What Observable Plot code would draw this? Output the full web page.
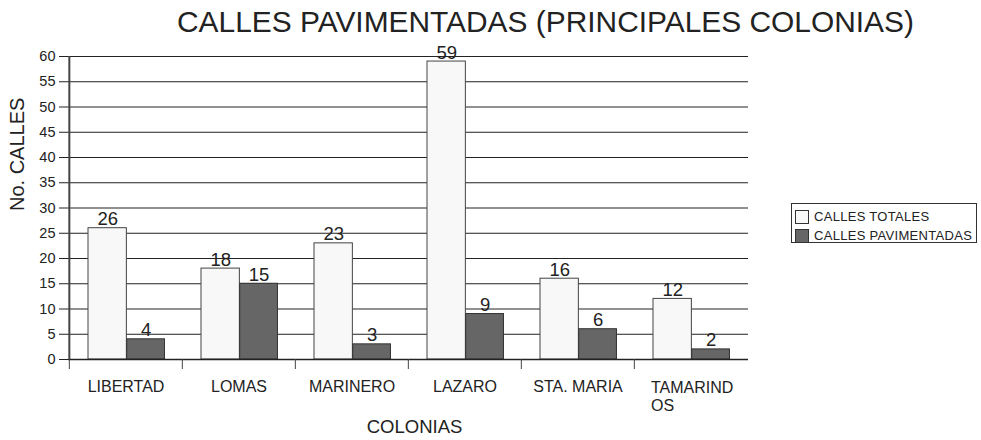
<!DOCTYPE html>
<html>
<head>
<meta charset="utf-8">
<script src="https://cdn.jsdelivr.net/npm/d3@7"></script>
<script src="https://cdn.jsdelivr.net/npm/@observablehq/plot@0.6"></script>
<style>
  html, body { margin: 0; padding: 0; background: #fff; }
  #wrap { position: relative; width: 981px; height: 440px; font-family: "Liberation Sans", Arial, sans-serif; color: #222; }
  #title { position: absolute; left: 177px; top: 7px; font-size: 29.9px; line-height: 29.9px; white-space: nowrap; color: #222; }
  #legend { position: absolute; left: 791px; top: 203px; width: 184px; height: 38px; border: 1px solid #333; font-size: 13px; letter-spacing: 0.3px; }
  .item { position: absolute; left: 3px; display: flex; align-items: center; white-space: nowrap; }
  .sw { width: 12px; height: 12px; border: 1px solid #333; margin-right: 5px; }
</style>
</head>
<body>
<div id="wrap">
  <div id="title"></div>
  <div id="legend"></div>
</div>
<script>
const title = "CALLES PAVIMENTADAS (PRINCIPALES COLONIAS)";
const colonias = ["LIBERTAD", "LOMAS", "MARINERO", "LAZARO", "STA. MARIA", "TAMARINDOS"];
const tickLabels = ["LIBERTAD", "LOMAS", "MARINERO", "LAZARO", "STA. MARIA", "TAMARIND\nOS"];
const series = ["CALLES TOTALES", "CALLES PAVIMENTADAS"];
const totales = [26, 18, 23, 59, 16, 12];
const pavimentadas = [4, 15, 3, 9, 6, 2];
const yTicks = [0, 5, 10, 15, 20, 25, 30, 35, 40, 45, 50, 55, 60];
const yLabel = "No. CALLES";
const xLabel = "COLONIAS";
const colors = ["#f8f8f8", "#666666"];

const W = 981, H = 440, mL = 68, mR = 233, mT = 56, mB = 81;
const bw = (W - mL - mR) / colonias.length;

const rowsT = colonias.map((c, i) => ({colonia: c, value: totales[i]}));
const rowsP = colonias.map((c, i) => ({colonia: c, value: pavimentadas[i]}));
const labelRows = colonias.map((c, i) => ({colonia: c, label: tickLabels[i]}));
const single = labelRows.filter(r => !r.label.includes("\n"));
const multi = labelRows.filter(r => r.label.includes("\n"));

const font = "'Liberation Sans', Arial, sans-serif";

const chart = Plot.plot({
  width: W, height: H,
  marginLeft: mL, marginRight: mR, marginTop: mT, marginBottom: mB,
  style: {fontFamily: font, background: "transparent", color: "#222", overflow: "visible"},
  x: {domain: colonias, padding: 0, axis: null},
  y: {domain: [0, 60], axis: null},
  marks: [
    Plot.gridY(yTicks, {stroke: "#222", strokeOpacity: 1, strokeWidth: 1}),
    Plot.axisY(yTicks, {tickSize: 9, tickPadding: 4, fontSize: 14.5, label: null, stroke: "#222"}),
    Plot.barY(rowsT, {x: "colonia", y: "value", fill: colors[0], stroke: "#444", strokeWidth: 1, insetLeft: 19, insetRight: bw - 57.7}),
    Plot.barY(rowsP, {x: "colonia", y: "value", fill: colors[1], stroke: "#333", strokeWidth: 1, insetLeft: 57.7, insetRight: bw - 95.8}),
    Plot.ruleY([0], {stroke: "#222", strokeWidth: 1.5}),
    Plot.ruleX([colonias[0]], {dx: -bw / 2, stroke: "#444", strokeWidth: 2}),
    Plot.axisX(colonias, {tickSize: 10, tickFormat: () => "", dx: -bw / 2, label: null, stroke: "#444"}),
    Plot.text(rowsT, {x: "colonia", y: "value", text: d => String(d.value), dx: 38.35 - bw / 2, dy: -3, lineAnchor: "bottom", fontSize: 18.5, fill: "#222"}),
    Plot.text(rowsP, {x: "colonia", y: "value", text: d => String(d.value), dx: 76.75 - bw / 2, dy: -3, lineAnchor: "bottom", fontSize: 18.5, fill: "#222"}),
    Plot.text(single, {x: "colonia", text: "label", frameAnchor: "bottom", lineAnchor: "top", dy: 21, fontSize: 16, fill: "#222"}),
    Plot.text(multi, {x: "colonia", text: "label", frameAnchor: "bottom", lineAnchor: "top", textAnchor: "start", dx: -40, dy: 21, lineHeight: 1.1, fontSize: 16, fill: "#222"}),
    Plot.text([yLabel], {text: d => d, frameAnchor: "left", rotate: -90, dx: -51, dy: 3, fontSize: 20, fill: "#222"}),
    Plot.text([xLabel], {text: d => d, frameAnchor: "bottom", lineAnchor: "middle", dx: 6, dy: 68, fontSize: 18.5, fill: "#222"})
  ]
});

const wrap = document.getElementById("wrap");
wrap.insertBefore(chart, wrap.firstChild);
document.getElementById("title").textContent = title;
const legend = document.getElementById("legend");
series.forEach((s, i) => {
  const item = document.createElement("div");
  item.className = "item";
  item.style.top = (i === 0 ? 5 : 24) + "px";
  const sw = document.createElement("div");
  sw.className = "sw";
  sw.style.background = colors[i];
  const t = document.createElement("span");
  t.textContent = s;
  item.appendChild(sw);
  item.appendChild(t);
  legend.appendChild(item);
});
</script>
</body>
</html>
